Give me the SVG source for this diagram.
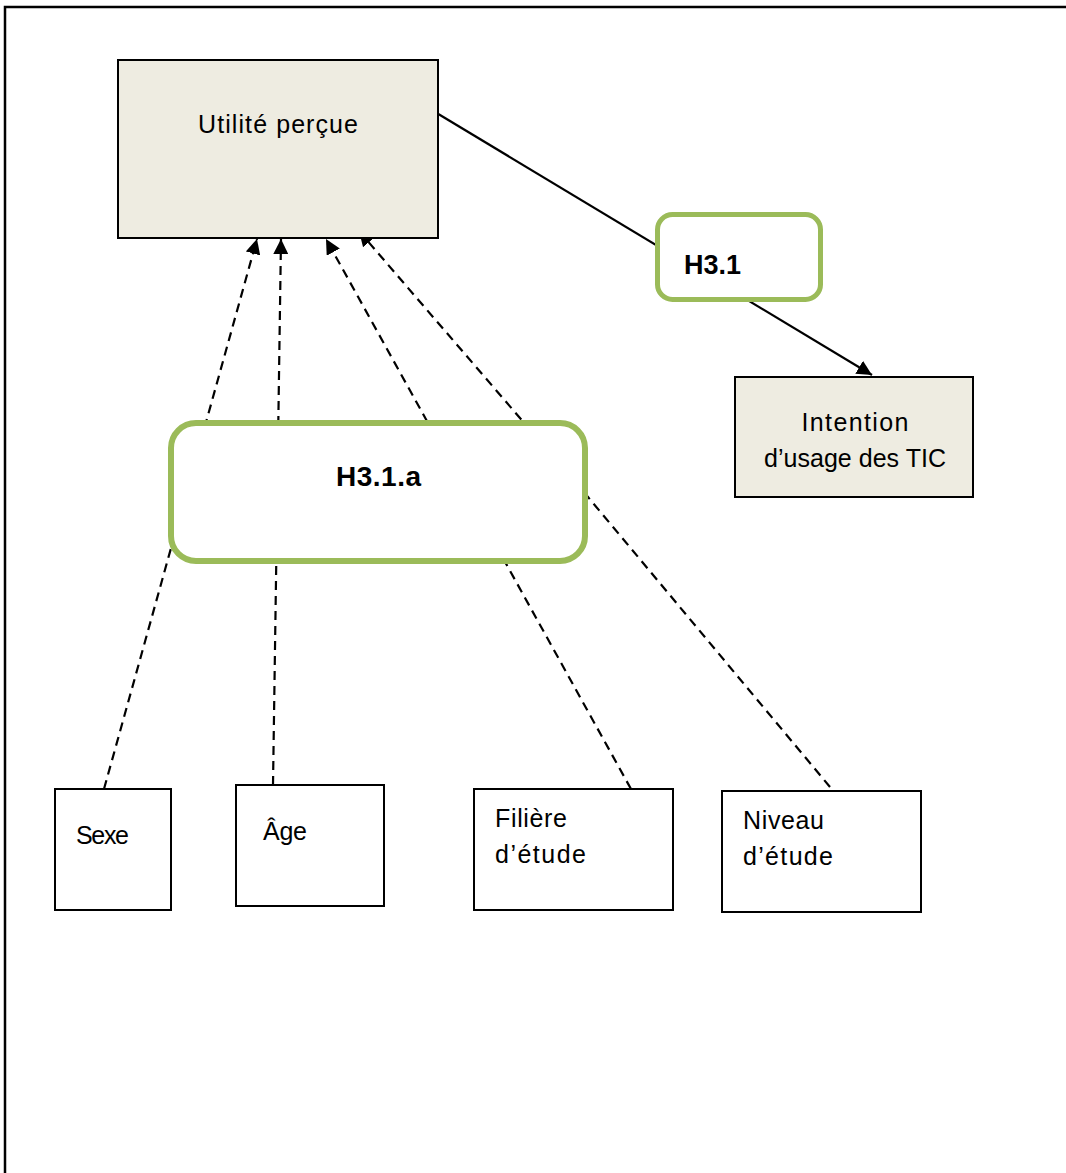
<svg xmlns="http://www.w3.org/2000/svg" width="1066" height="1173" viewBox="0 0 1066 1173">
<style>
.frame{stroke:#000;stroke-width:2.5;fill:none}
.box{fill:#EEECE1;stroke:#000;stroke-width:2}
.wbox{fill:#fff;stroke:#000;stroke-width:2}
.hyp{fill:#fff;stroke:#9BBB59}
.t{font-family:"Liberation Sans",Arial,sans-serif;font-size:25px;fill:#000}
.b{font-family:"Liberation Sans",Arial,sans-serif;font-weight:bold;fill:#000}
.dash{stroke:#000;stroke-width:2.2;fill:none;stroke-dasharray:9,6}
.solid{stroke:#000;stroke-width:2.2;fill:none}
</style>
<defs>
<marker id="arr" markerUnits="userSpaceOnUse" markerWidth="16" markerHeight="15" refX="15" refY="7.5" orient="auto">
<path d="M0,0 L15,7.5 L0,15 z" fill="#000"/>
</marker>
</defs>
<rect width="1066" height="1173" fill="#fff"/>
<path class="frame" d="M5,1173 V7 H1066"/>
<g id="connectors">
<line class="solid" x1="435" y1="112" x2="872" y2="375" marker-end="url(#arr)"/>
<line class="dash" x1="104" y1="789" x2="257" y2="239" marker-end="url(#arr)"/>
<line class="dash" x1="273" y1="785" x2="281" y2="239" marker-end="url(#arr)"/>
<line class="dash" x1="631" y1="789" x2="326" y2="239" marker-end="url(#arr)"/>
<polyline class="dash" points="830,787 588,497 359,231" marker-end="url(#arr)"/>
</g>
<g id="utilite">
<rect class="box" x="118" y="60" width="320" height="178"/>
<text class="t" x="278" y="133" text-anchor="middle" textLength="160">Utilité perçue</text>
</g>
<g id="h31">
<rect class="hyp" x="657.5" y="214.5" width="163" height="85" rx="15" stroke-width="5"/>
<text class="b" x="684" y="274" font-size="27" textLength="57">H3.1</text>
</g>
<g id="intention">
<rect class="box" x="735" y="377" width="238" height="120"/>
<text class="t" x="855" y="431" text-anchor="middle" textLength="107">Intention</text>
<text class="t" x="855" y="467" text-anchor="middle" textLength="182">d’usage des TIC</text>
</g>
<g id="h31a">
<rect class="hyp" x="171" y="423" width="414" height="138" rx="25" stroke-width="6"/>
<text class="b" x="378.5" y="486" font-size="28" text-anchor="middle" textLength="85">H3.1.a</text>
</g>
<g id="sexe">
<rect class="wbox" x="55" y="789" width="116" height="121"/>
<text class="t" x="76" y="844" font-size="24" textLength="53">Sexe</text>
</g>
<g id="age">
<rect class="wbox" x="236" y="785" width="148" height="121"/>
<text class="t" x="263" y="840" font-size="24" textLength="44">Âge</text>
</g>
<g id="filiere">
<rect class="wbox" x="474" y="789" width="199" height="121"/>
<text class="t" x="495" y="827" textLength="72">Filière</text>
<text class="t" x="495" y="863" textLength="91">d’étude</text>
</g>
<g id="niveau">
<rect class="wbox" x="722" y="791" width="199" height="121"/>
<text class="t" x="743" y="829" textLength="81">Niveau</text>
<text class="t" x="743" y="865" textLength="90">d’étude</text>
</g>
</svg>
